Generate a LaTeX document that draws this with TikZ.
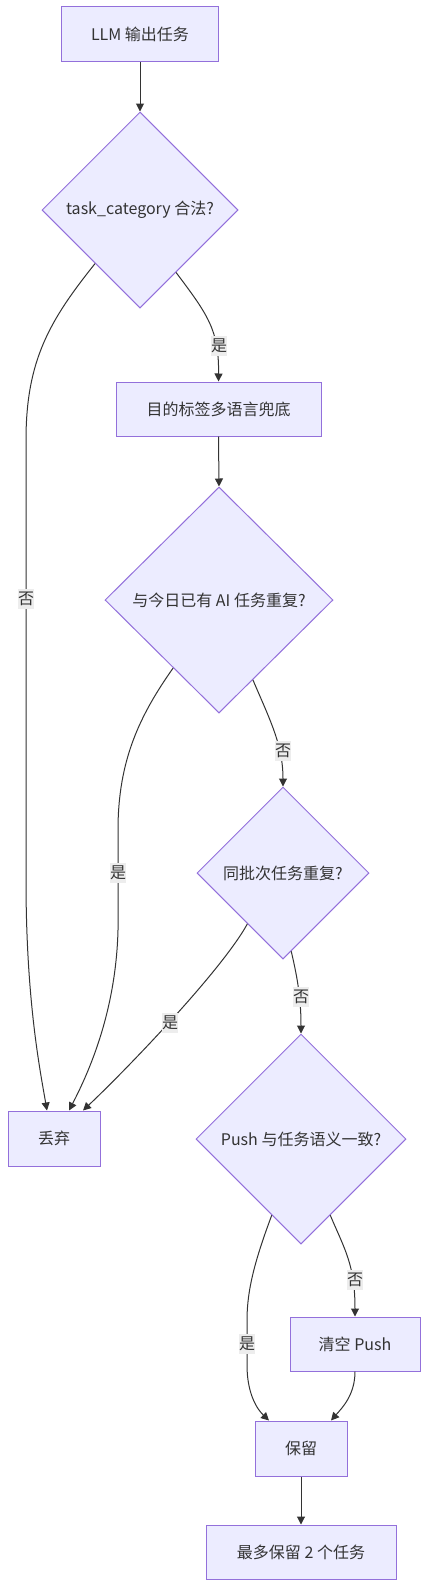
\documentclass[tikz,border=0pt]{standalone}
\usepackage{fontspec}
\setmainfont{Noto Sans CJK SC}
\usetikzlibrary{shapes.geometric,arrows.meta,calc}
\definecolor{nodefill}{HTML}{ECECFF}
\definecolor{nodeline}{HTML}{9370DB}
\definecolor{edgeline}{HTML}{333333}
\definecolor{labelbg}{HTML}{EDEDED}
\begin{document}
\begin{tikzpicture}[x=1pt,y=-1pt,
  box/.style={draw=nodeline,fill=nodefill,line width=1pt,inner sep=0pt,font=\fontsize{16}{19}\selectfont,text=edgeline},
  rbox/.style={box,rectangle},
  dbox/.style={box,diamond},
  conn/.style={draw=edgeline,line width=1pt,-{Triangle[length=8pt,width=8pt]}},
  elabel/.style={fill=labelbg,inner xsep=0pt,inner ysep=3pt,font=\fontsize{16}{19}\selectfont,text=edgeline}]
\useasboundingbox (0,0) rectangle (427,1587);
\node[rbox,minimum width=157pt,minimum height=55pt] (a) at (140,34.5) {LLM 输出任务};
\node[dbox,minimum width=196pt,minimum height=196pt] (b) at (140,210) {task\_category 合法?};
\node[rbox,minimum width=205pt,minimum height=54pt] (c) at (218.5,409) {目的标签多语言兜底};
\node[dbox,minimum width=228pt,minimum height=226pt] (d) at (219,600) {与今日已有 AI 任务重复?};
\node[dbox,minimum width=172pt,minimum height=172pt] (e) at (283,873) {同批次任务重复?};
\node[rbox,minimum width=92pt,minimum height=55pt] (drop) at (54,1138.5) {丢弃};
\node[dbox,minimum width=210pt,minimum height=210pt] (f) at (301,1139) {Push 与任务语义一致?};
\node[rbox,minimum width=130pt,minimum height=54pt] (h) at (355,1344) {清空 Push};
\node[rbox,minimum width=92pt,minimum height=55pt] (g) at (301,1448.5) {保留};
\node[rbox,minimum width=190pt,minimum height=54pt] (i) at (301,1552) {最多保留 2 个任务};

\path[conn] (a.south) -- (b.north);
\path[conn] (b.-60) .. controls (208,315) and (219,330) .. (c.north);
\path[conn] (b.-130) .. controls (50,320) and (26,360) .. (26,440) -- (26,880) .. controls (26,1000) and (40,1070) .. ([xshift=-7pt]drop.north);
\path[conn] (c.south) -- (d.north);
\path[conn] (d.-67) .. controls (270,720) and (283,745) .. (e.north);
\path[conn] (d.-124) .. controls (140,715) and (118,760) .. (118,830) -- (118,930) .. controls (116,1010) and (90,1070) .. ([xshift=15pt]drop.north);
\path[conn] (e.-125) .. controls (222,970) and (128,1068) .. ([xshift=29pt]drop.north);
\path[conn] (e.-84) .. controls (298,980) and (301,1000) .. (f.north);
\path[conn] (f.-111) .. controls (255,1260) and (247,1290) .. (247,1320) -- (247,1365) .. controls (247,1395) and (258,1410) .. ([xshift=-32pt]g.north);
\path[conn] (f.-69) .. controls (345,1250) and (355,1265) .. (h.north);
\path[conn] (h.south) .. controls (355,1395) and (342,1408) .. ([xshift=30pt]g.north);
\path[conn] (g.south) -- (i.north);

\node[elabel] (l1) at (26,599) {否};
\node[elabel] (l2) at (219,346) {是};
\node[elabel] (l3) at (283,751) {否};
\node[elabel] (l4) at (118,873) {是};
\node[elabel] (l5) at (170,1023) {是};
\node[elabel] (l6) at (301,997) {否};
\node[elabel] (l7) at (247,1344) {是};
\node[elabel] (l8) at (355,1280) {否};
\end{tikzpicture}
\end{document}
